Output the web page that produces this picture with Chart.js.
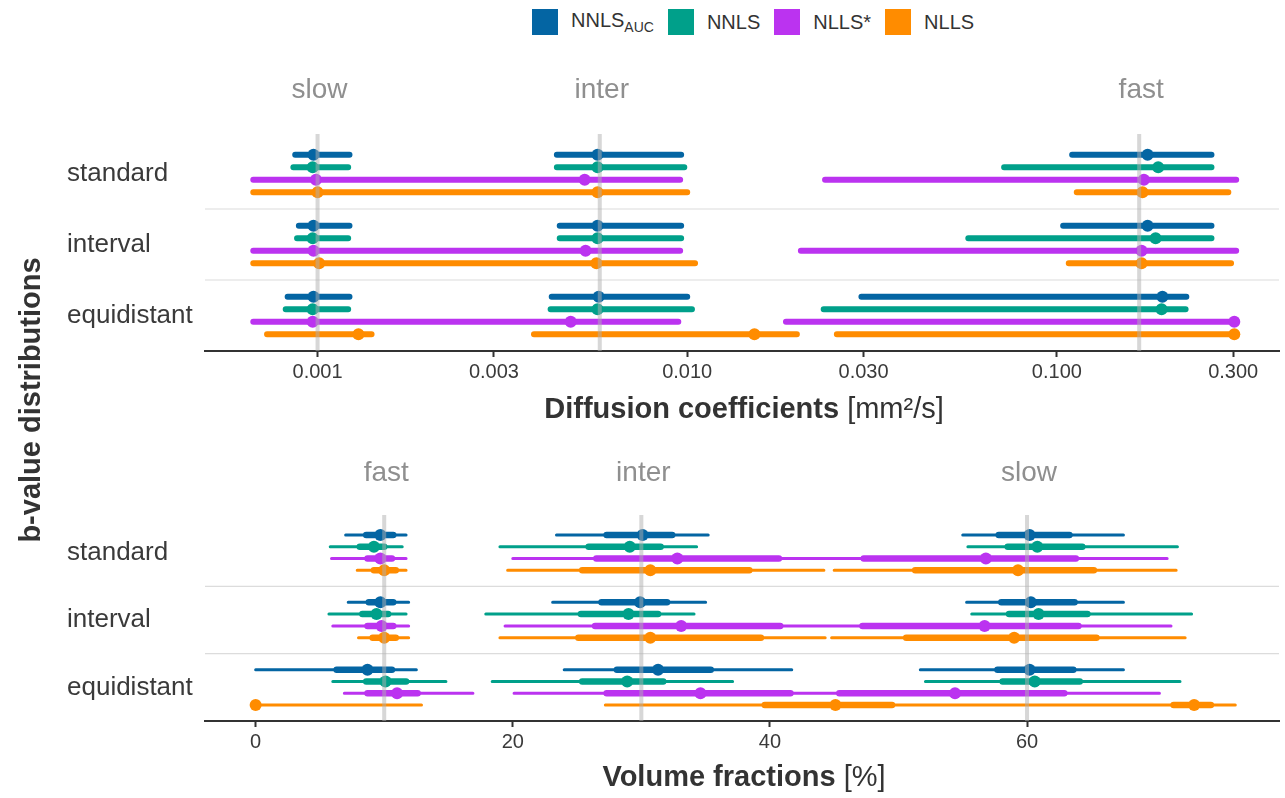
<!DOCTYPE html>
<html>
<head>
<meta charset="utf-8">
<script src="https://cdn.jsdelivr.net/npm/chart.js@4.4.1/dist/chart.umd.min.js"></script>
<style>
  body { margin: 0; width: 1285px; height: 798px; background: #fff; position: relative; overflow: hidden;
         font-family: 'Liberation Sans', Arial, sans-serif; color: #333; }
  canvas { position: absolute; left: 0; }
  #diffCanvas { top: 0; }
  #fracCanvas { top: 440px; }
  #legend { position: absolute; top: 9px; left: 532px; display: flex; align-items: center; font-size: 20px; color: #333; }
  #legend .key { display: flex; align-items: center; margin-right: 14px; }
  #legend .sw { width: 26px; height: 26px; margin-right: 13px; }
  #legend sub { font-size: 14px; vertical-align: -5px; }
  .xtitle { position: absolute; left: 205px; width: 1078px; text-align: center; font-size: 29px; line-height: 29px; color: #333; }
  .xtitle b { font-weight: bold; }
  #ytitle { position: absolute; left: -170px; top: 383px; width: 400px; line-height: 34px; text-align: center;
            font-size: 29px; font-weight: bold; color: #333; transform: rotate(-90deg); }
</style>
</head>
<body>
<div id="legend"></div>
<canvas id="diffCanvas" width="1285" height="440"></canvas>
<canvas id="fracCanvas" width="1285" height="358"></canvas>
<div class="xtitle" style="top:394px"><b>Diffusion coefficients</b> [mm²/s]</div>
<div class="xtitle" style="top:762px"><b>Volume fractions</b> [%]</div>
<div id="ytitle">b-value distributions</div>
<script>
const rows = ['standard', 'interval', 'equidistant'];
const methods = ['NNLS_AUC', 'NNLS', 'NLLS*', 'NLLS'];
const methodColors = ['#0465a3', '#00a08a', '#bb33f0', '#ff8c00'];
const compartments = ['slow', 'inter', 'fast'];
const diffTruth = [0.001, 0.0058, 0.167];
const fracTruth = [60, 30, 10];
const diffTicks = [0.001, 0.003, 0.01, 0.03, 0.1, 0.3];
const fracTicks = [0, 20, 40, 60];

// diffusion coefficients [mm²/s]: [method][row][slow, inter, fast]
const diffLow = [
  [[0.00087, 0.00444, 0.110], [0.00089, 0.00452, 0.104], [0.00083, 0.0043, 0.0296]],
  [[0.00086, 0.00444, 0.072], [0.00088, 0.00452, 0.0576], [0.00082, 0.00427, 0.0234]],
  [[0.00067, 0.0015, 0.0236], [0.00067, 0.0015, 0.0203], [0.00067, 0.0015, 0.0185]],
  [[0.00067, 0.0015, 0.1132], [0.00067, 0.0015, 0.1077], [0.00073, 0.00385, 0.0254]]
];
const diffHigh = [
  [[0.00122, 0.00963, 0.262], [0.00122, 0.00963, 0.262], [0.00122, 0.0100, 0.224]],
  [[0.00121, 0.00982, 0.262], [0.00121, 0.00963, 0.262], [0.00121, 0.0103, 0.223]],
  [[0.003, 0.00957, 0.3056], [0.003, 0.00957, 0.3056], [0.003, 0.00946, 0.302]],
  [[0.003, 0.0100, 0.291], [0.003, 0.0105, 0.296], [0.0014, 0.0198, 0.302]]
];
const diffMedian = [
  [[0.000975, 0.00572, 0.176], [0.000975, 0.00572, 0.176], [0.000975, 0.00576, 0.193]],
  [[0.00097, 0.00572, 0.188], [0.00097, 0.00572, 0.185], [0.00097, 0.00572, 0.192]],
  [[0.00099, 0.00528, 0.172], [0.000975, 0.00531, 0.1695], [0.00097, 0.00484, 0.302]],
  [[0.0010, 0.00572, 0.1705], [0.00101, 0.00568, 0.1695], [0.00129, 0.0152, 0.302]]
];

// volume fractions [%]: [method][row][slow, inter, fast]
const fracLow95 = [
  [[55.0, 23.4, 7.0], [55.3, 23.1, 7.2], [51.7, 24.0, 0.0]],
  [[55.4, 19.0, 5.8], [55.7, 17.9, 5.7], [52.1, 18.4, 6.0]],
  [[40.0, 20.0, 5.9], [40.0, 19.4, 6.0], [40.0, 20.1, 6.9]],
  [[45.0, 19.6, 7.9], [44.8, 19.0, 8.0], [52.0, 27.2, 0.0]]
];
const fracLow50 = [
  [[57.8, 27.3, 8.6], [58.0, 26.9, 8.8], [57.7, 28.1, 6.3]],
  [[58.5, 25.9, 8.1], [58.6, 25.3, 8.3], [58.1, 25.4, 8.6]],
  [[47.3, 26.5, 8.7], [47.2, 26.4, 8.7], [45.4, 27.3, 8.7]],
  [[51.3, 25.4, 9.2], [50.6, 25.1, 9.1], [71.4, 39.6, 0.0]]
];
const fracMedian = [
  [[60.2, 30.1, 9.7], [60.3, 29.9, 9.7], [60.2, 31.3, 8.7]],
  [[60.8, 29.1, 9.2], [60.9, 29.0, 9.4], [60.6, 28.9, 10.1]],
  [[56.8, 32.8, 9.7], [56.7, 33.1, 9.8], [54.4, 34.6, 11.0]],
  [[59.3, 30.7, 10.0], [59.0, 30.7, 10.0], [73.0, 45.1, 0.0]]
];
const fracHigh50 = [
  [[63.3, 32.4, 10.7], [63.7, 32.0, 10.7], [63.6, 35.4, 10.6]],
  [[64.3, 31.5, 10.0], [64.7, 31.3, 10.3], [64.1, 31.7, 11.7]],
  [[63.8, 40.7, 10.6], [64.0, 40.8, 10.7], [62.9, 41.6, 12.6]],
  [[65.2, 38.4, 10.9], [65.4, 39.3, 10.9], [74.3, 49.5, 0.0]]
];
const fracHigh95 = [
  [[67.5, 35.2, 11.7], [67.5, 35.0, 11.9], [67.5, 41.7, 12.5]],
  [[71.7, 34.3, 11.4], [72.8, 34.1, 11.7], [71.9, 37.1, 14.8]],
  [[70.9, 50.0, 11.7], [71.2, 50.0, 11.9], [70.3, 50.0, 16.9]],
  [[71.6, 44.2, 11.7], [72.3, 44.3, 11.9], [76.2, 60.0, 12.9]]
];

const textColor = '#3a3a3a';
const fontFamily = "'Liberation Sans', Arial, sans-serif";

// vertical position of a method's row inside a b-value group
const rowY = (r, m) => r + 1 + (m - 1.5) * 0.175;

function segments(lo, hi, m) {
  const pts = [];
  rows.forEach((_, r) => compartments.forEach((_, c) => {
    const y = rowY(r, m);
    pts.push({ x: lo[m][r][c], y }, { x: hi[m][r][c], y }, { x: null, y: null });
  }));
  return pts;
}

function medians(med, m) {
  const pts = [];
  rows.forEach((_, r) => compartments.forEach((_, c) => pts.push({ x: med[m][r][c], y: rowY(r, m) })));
  return pts;
}

function lineSet(data, color, width) {
  return { data, showLine: true, borderColor: color, borderWidth: width, pointRadius: 0,
           borderCapStyle: 'round', borderJoinStyle: 'round', spanGaps: false };
}

function pointSet(data, color) {
  return { data, showLine: false, pointRadius: 6, pointHoverRadius: 6,
           pointBackgroundColor: color, pointBorderWidth: 0 };
}

// separators between b-value groups, true-value lines and compartment labels
const panelDecor = {
  id: 'panelDecor',
  beforeDatasetsDraw(chart) {
    const { ctx, chartArea, scales: { y } } = chart;
    ctx.save();
    ctx.strokeStyle = '#dcdcdc';
    ctx.lineWidth = 1.2;
    [1.5, 2.5].forEach(v => {
      const py = y.getPixelForValue(v);
      ctx.beginPath();
      ctx.moveTo(chartArea.left, py);
      ctx.lineTo(chartArea.right, py);
      ctx.stroke();
    });
    ctx.restore();
  },
  afterDatasetsDraw(chart, args, opts) {
    const { ctx, chartArea, scales: { x } } = chart;
    ctx.save();
    ctx.strokeStyle = 'rgba(175, 175, 175, 0.5)';
    ctx.lineWidth = 4;
    opts.truth.forEach(v => {
      const px = x.getPixelForValue(v);
      ctx.beginPath();
      ctx.moveTo(px, chartArea.top - 4);
      ctx.lineTo(px, chartArea.bottom);
      ctx.stroke();
    });
    ctx.fillStyle = '#8f8f8f';
    ctx.font = '28px ' + fontFamily;
    ctx.textAlign = 'center';
    ctx.textBaseline = 'middle';
    opts.truth.forEach((v, i) => ctx.fillText(compartments[i], x.getPixelForValue(v) + 2, opts.labelY));
    ctx.restore();
  }
};

function buildDatasets(widthSets, pointData) {
  const sets = [];
  methods.forEach((_, m) => {
    sets.push(pointSet(pointData(m), methodColors[m]));
    widthSets.forEach(([data, w]) => sets.push(lineSet(data(m), methodColors[m], w)));
  });
  return sets;
}

function yScale(width) {
  return {
    type: 'linear', reverse: true, min: 0.5, max: 3.5,
    afterBuildTicks: a => { a.ticks = rows.map((_, i) => ({ value: i + 1 })); },
    afterFit: s => { s.width = width; },
    grid: { display: false }, border: { display: false },
    ticks: { callback: v => rows[v - 1], color: textColor, crossAlign: 'far', padding: 0,
             font: { family: fontFamily, size: 26 } }
  };
}

function xScale(type, min, max, tickValues, fmt, height) {
  return {
    type, min, max,
    afterBuildTicks: a => { a.ticks = tickValues.map(v => ({ value: v })); },
    afterFit: s => { s.height = height; },
    grid: { display: true, drawOnChartArea: false, drawTicks: true, tickLength: 6, tickColor: '#333', tickWidth: 2 },
    border: { display: true, color: '#333', width: 2 },
    ticks: { callback: fmt, color: textColor, padding: 3, maxRotation: 0, autoSkip: false,
             font: { family: fontFamily, size: 20 } }
  };
}

const commonOptions = {
  responsive: false, animation: false, events: [],
  plugins: { legend: { display: false }, tooltip: { enabled: false } }
};

new Chart(document.getElementById('diffCanvas'), {
  type: 'scatter',
  data: {
    datasets: buildDatasets(
      [[m => segments(diffLow, diffHigh, m), 6]],
      m => medians(diffMedian, m))
  },
  options: {
    ...commonOptions,
    layout: { padding: { left: 67, right: 2, top: 138, bottom: 0 } },
    plugins: { ...commonOptions.plugins, panelDecor: { truth: diffTruth, labelY: 90 } },
    scales: {
      x: xScale('logarithmic', 0.000496, 0.399, diffTicks, v => Number(v).toFixed(3), 89),
      y: yScale(138)
    }
  },
  plugins: [panelDecor]
});

new Chart(document.getElementById('fracCanvas'), {
  type: 'scatter',
  data: {
    datasets: buildDatasets(
      [[m => segments(fracLow50, fracHigh50, m), 6.5], [m => segments(fracLow95, fracHigh95, m), 3]],
      m => medians(fracMedian, m))
  },
  options: {
    ...commonOptions,
    layout: { padding: { left: 67, right: 2, top: 79, bottom: 0 } },
    plugins: { ...commonOptions.plugins, panelDecor: { truth: fracTruth, labelY: 33 } },
    scales: {
      x: xScale('linear', -3.94, 79.6, fracTicks, v => String(v), 77),
      y: yScale(138)
    }
  },
  plugins: [panelDecor]
});

// legend keys
const legend = document.getElementById('legend');
methods.forEach((name, m) => {
  const key = document.createElement('span');
  key.className = 'key';
  const sw = document.createElement('span');
  sw.className = 'sw';
  sw.style.background = methodColors[m];
  key.appendChild(sw);
  const [main, sub] = name.split('_');
  const label = document.createElement('span');
  label.textContent = main;
  if (sub) {
    const s = document.createElement('sub');
    s.textContent = sub;
    label.appendChild(s);
  }
  key.appendChild(label);
  legend.appendChild(key);
});
</script>
</body>
</html>
